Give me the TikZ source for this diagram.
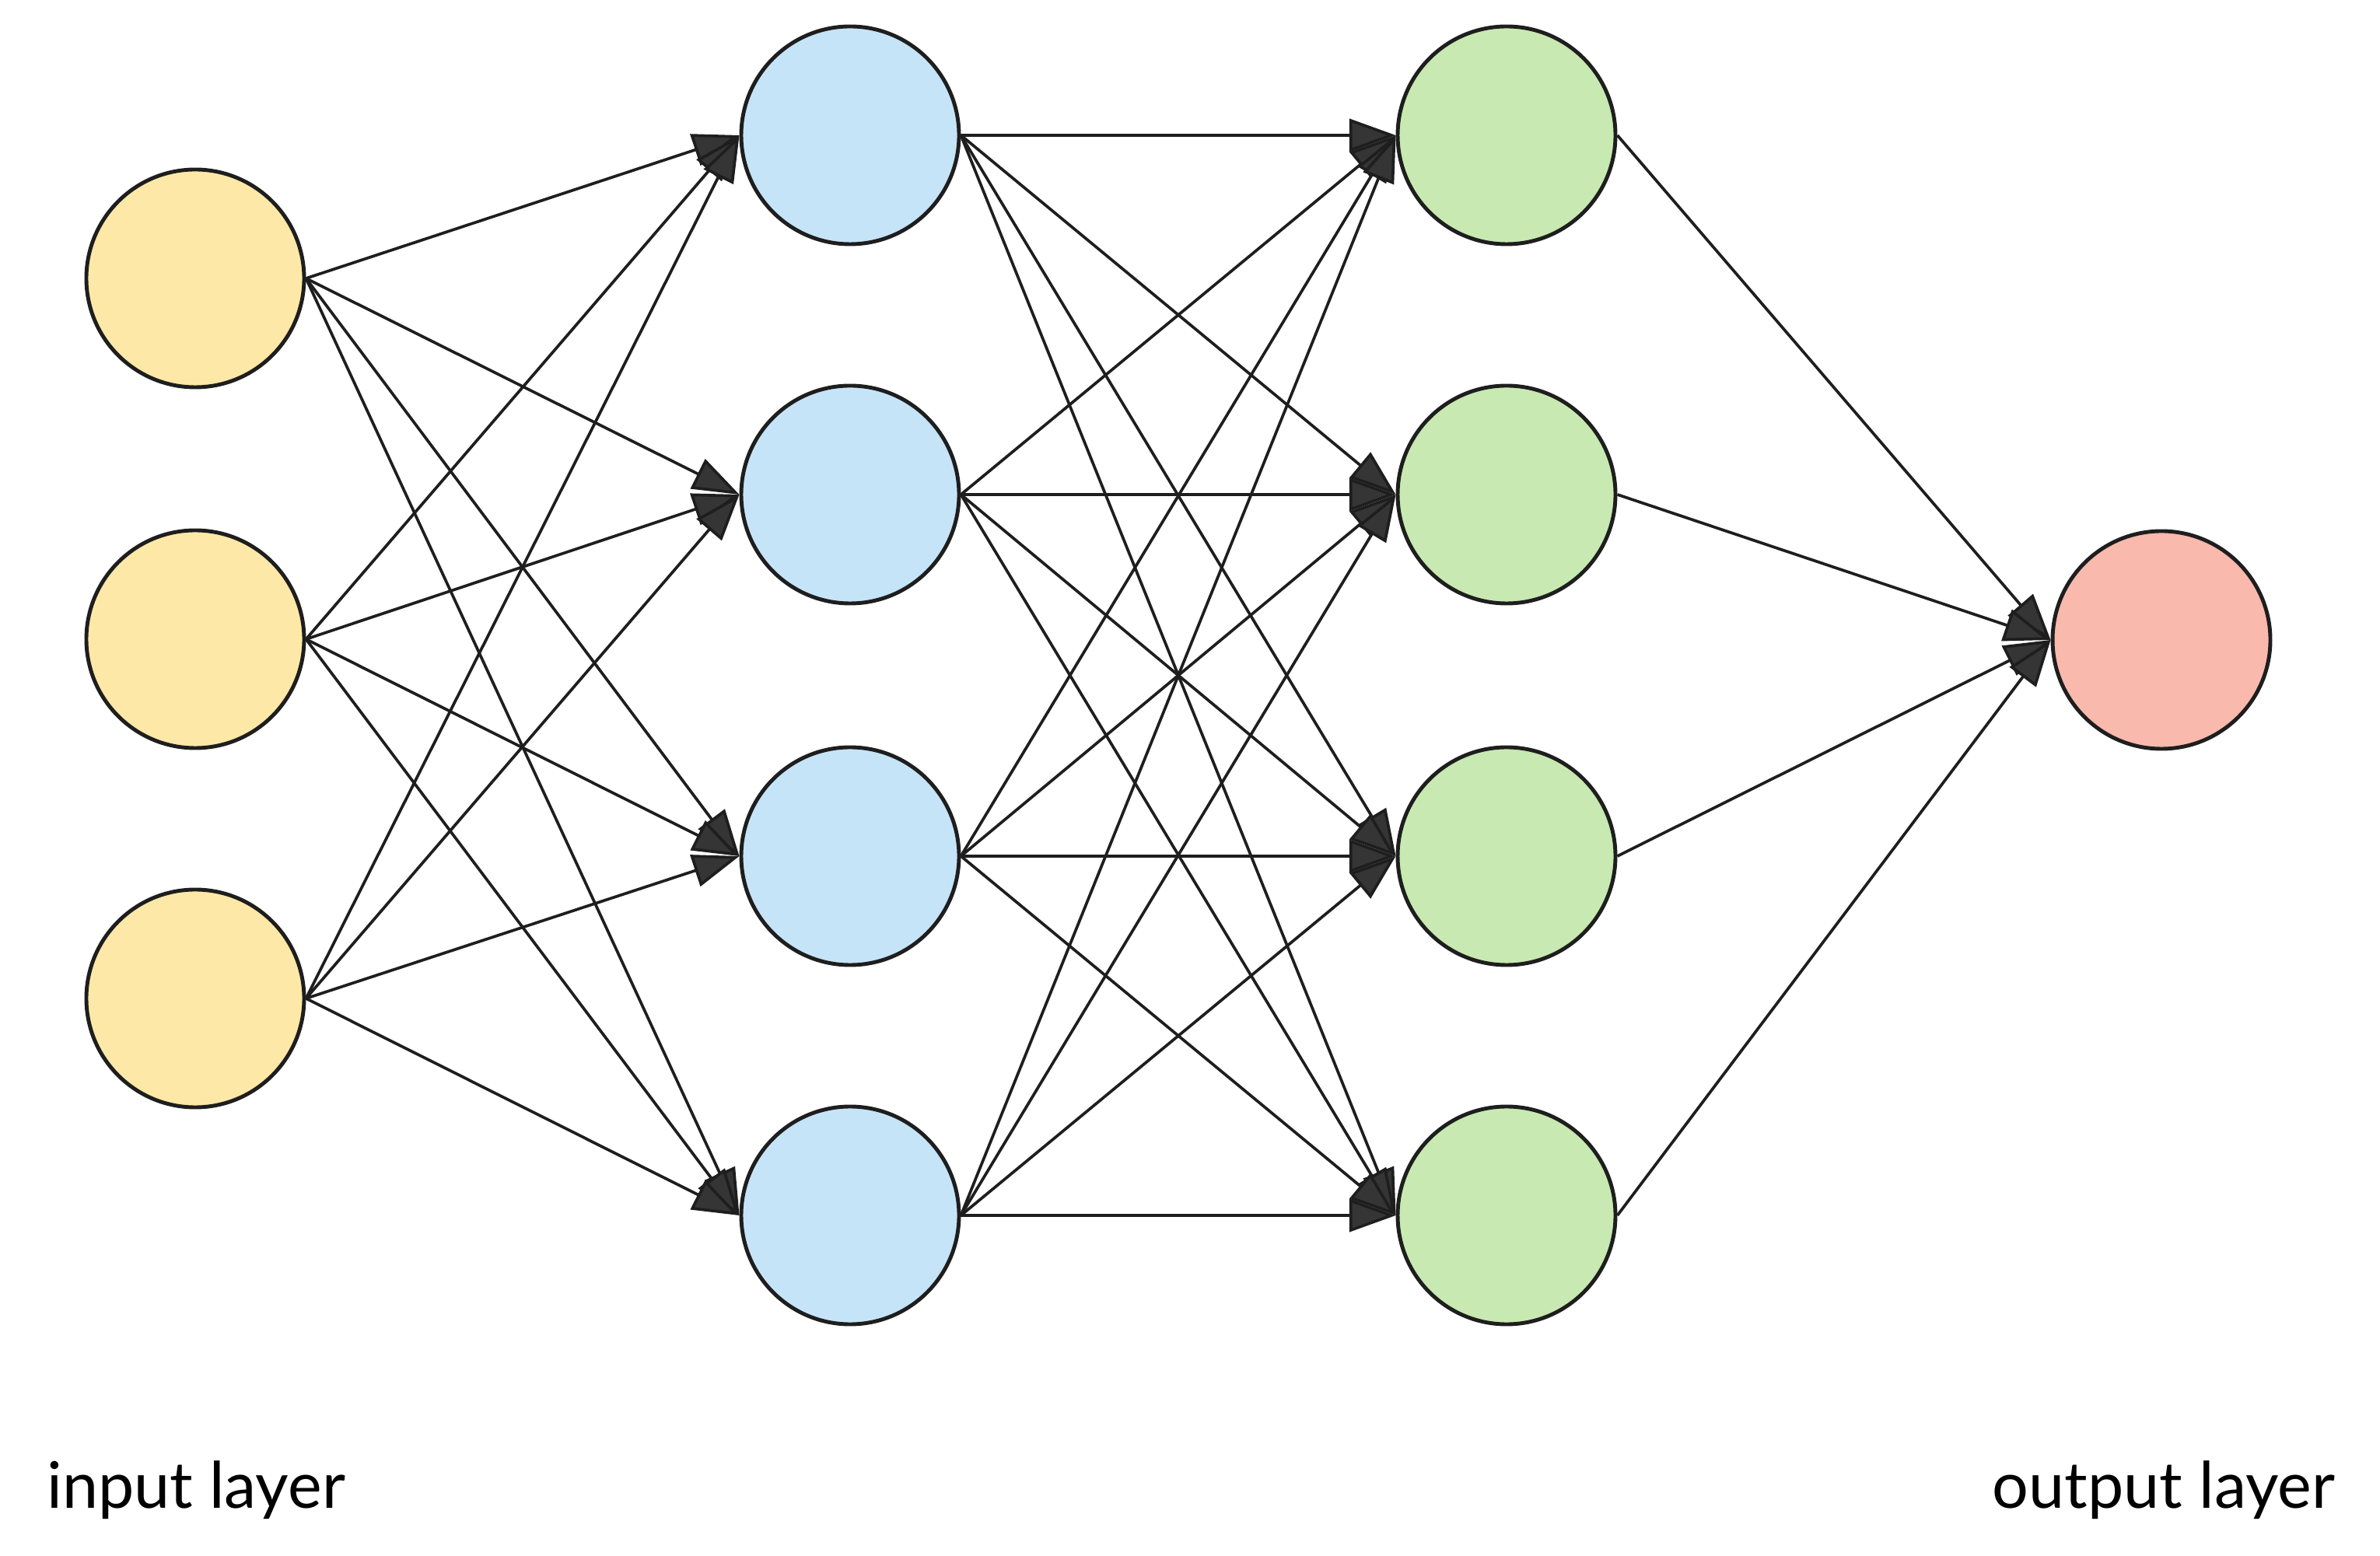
\documentclass[tikz,border=0pt]{standalone}
\usepackage{fontspec}
\setmainfont{Lato}
\usetikzlibrary{arrows.meta}

\definecolor{inputfill}{HTML}{FEE8A8}
\definecolor{hiddenfill}{HTML}{C6E4F8}
\definecolor{secondfill}{HTML}{C8E9B1}
\definecolor{outputfill}{HTML}{F9B9AD}
\definecolor{edgeink}{HTML}{1E1E1E}

\tikzset{
    neuron/.style={circle, draw=edgeink, line width=1.4pt, minimum size=2.8cm, inner sep=0pt},
    link/.style={draw=edgeink, line width=1.05pt, -{Triangle[length=17pt, width=12pt, fill=edgeink!90]}},
    layerlabel/.style={anchor=base, font=\fontsize{23.5}{28}\selectfont}
}

\begin{document}
\begin{tikzpicture}
    \useasboundingbox (0,0) rectangle (30.6,20);

    % Input layer
    \node[neuron, fill=inputfill] (in1) at (2.51, 16.42) {};
    \node[neuron, fill=inputfill] (in2) at (2.51, 11.78) {};
    \node[neuron, fill=inputfill] (in3) at (2.51, 7.16) {};

    % Hidden layers
    \foreach \y [count=\k] in {18.26, 13.64, 8.99, 4.37} {
        \node[neuron, fill=hiddenfill] (ha\k) at (10.93, \y) {};
        \node[neuron, fill=secondfill] (hb\k) at (19.37, \y) {};
    }

    % Output layer
    \node[neuron, fill=outputfill] (out) at (27.79, 11.77) {};

    % Connections
    \foreach \a in {1,2,3}
        \foreach \b in {1,...,4}
            \draw[link] (in\a.east) -- (ha\b.west);
    \foreach \a in {1,...,4}
        \foreach \b in {1,...,4}
            \draw[link] (ha\a.east) -- (hb\b.west);
    \foreach \a in {1,...,4}
        \draw[link] (hb\a.east) -- (out.west);

    % Layer labels
    \node[layerlabel] (inlabel) at (2.52, 0.61) {input layer};
    \node[layerlabel] (outlabel) at (27.82, 0.61) {output layer};
\end{tikzpicture}
\end{document}
